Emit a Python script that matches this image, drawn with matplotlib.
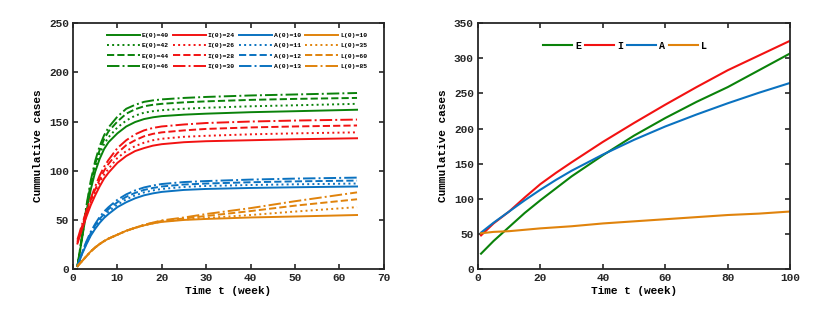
import matplotlib
matplotlib.use("Agg")
import matplotlib.pyplot as plt

plt.rcParams['font.family'] = ['Liberation Mono', 'DejaVu Sans Mono']
plt.rcParams['font.weight'] = 'bold'

# ---------- Left panel data ----------
t_left = [1, 2, 3, 4, 5, 6, 7, 8, 10, 12, 14, 16, 18, 20, 25, 30, 40, 50, 64]

E40 = [3, 30, 58, 81, 99, 112, 122, 129, 138, 145, 149.5, 152.5, 154.3, 155.5, 157, 158, 159.5, 160.5, 162]
E42 = [3, 31, 60, 84, 103, 117, 127, 134, 144, 151, 156, 159, 160.5, 161.5, 163, 164, 165.5, 166.5, 168]
E44 = [3, 32, 62, 87, 107, 121, 132, 140, 150, 158, 162.5, 165.5, 167, 168, 169.5, 170.5, 172, 173, 174]
E46 = [3, 33, 64, 90, 110, 125, 136, 144, 155, 163, 167, 170, 171.5, 172.5, 174, 175, 176.5, 177.5, 179]

I24 = [26, 40, 53, 65, 75, 84, 92, 98, 108, 115, 120, 123, 125.5, 127, 129, 130, 131, 132, 133]
I26 = [27, 41, 55, 67, 78, 88, 96, 102, 113, 120, 125, 128.5, 131, 132.5, 134.5, 135.5, 137, 138, 139]
I28 = [28, 43, 57, 70, 81, 91, 100, 107, 118, 126, 131, 135, 137.5, 139, 141, 142.5, 144, 145, 146]
I30 = [30, 45, 59, 72, 84, 95, 104, 111, 123, 131, 137, 141, 143.5, 145, 147, 148.5, 150, 151, 152]

A10 = [3, 15, 25, 34, 41, 47, 52, 56, 63, 68, 72, 75, 77, 78.5, 80.5, 81.5, 82.5, 83.2, 84]
A11 = [3, 15.5, 26, 35, 43, 49, 54, 58.5, 65.5, 71, 75, 78, 80, 81.5, 83.5, 84.5, 85.5, 86.2, 87]
A12 = [3, 16, 27, 36.5, 44.5, 51, 56, 61, 68, 73.5, 77.5, 80.5, 82.5, 84, 86, 87, 88.3, 89.2, 90]
A13 = [3, 16.5, 28, 38, 46, 53, 58.5, 63, 70.5, 76, 80, 83, 85, 86.5, 88.5, 89.5, 91, 92, 93]

L10 = [3, 8, 13, 18, 22, 25.5, 28.5, 31, 35, 39, 42, 44.5, 46.5, 48, 50, 51, 52.5, 53.5, 55]
L35 = [3, 8, 13, 18, 22, 25.5, 28.5, 31, 35, 39, 42, 44.5, 46.5, 48.5, 50.5, 52, 55, 58.5, 63]
L60 = [3, 8, 13, 18, 22, 25.5, 28.5, 31, 35, 39, 42, 45, 47, 49, 51.5, 54, 59, 64.5, 71]
L85 = [3, 8, 13, 18, 22, 25.5, 28.5, 31, 35, 39, 42, 45, 47.3, 49.5, 52.5, 56, 62, 69, 78]

E_labels = ['E(0)=40', 'E(0)=42', 'E(0)=44', 'E(0)=46']
I_labels = ['I(0)=24', 'I(0)=26', 'I(0)=28', 'I(0)=30']
A_labels = ['A(0)=10', 'A(0)=11', 'A(0)=12', 'A(0)=13']
L_labels = ['L(0)=10', 'L(0)=35', 'L(0)=60', 'L(0)=85']

# ---------- Right panel data ----------
t_right = [1, 5, 10, 15, 20, 25, 30, 40, 50, 60, 70, 80, 90, 100]
E_r = [22, 40, 60, 80, 98, 115, 132, 162, 190, 215, 238, 259, 283, 307]
I_r = [48, 65, 82, 102, 121, 137, 152, 181, 208, 234, 259, 283, 304, 325]
A_r = [52, 66, 82, 98, 113, 127, 140, 163, 184, 203, 220, 236, 251, 265]
L_r = [51, 53, 54, 56, 58, 59.5, 61, 65, 68, 71, 74, 77, 79, 82]
right_labels = ['E', 'I', 'A', 'L']

GREEN = '#0a820a'
RED = '#f21212'
BLUE = '#0a72c0'
ORANGE = '#e0830c'

styles = ['-', ':', '--', '-.']

fig = plt.figure(figsize=(8.24, 3.17), dpi=100)
ax1 = fig.add_axes([0.0886, 0.151, 0.377, 0.776])
ax2 = fig.add_axes([0.580, 0.151, 0.379, 0.776])

lw = 1.4
groups = [
    ([E40, E42, E44, E46], E_labels, GREEN),
    ([I24, I26, I28, I30], I_labels, RED),
    ([A10, A11, A12, A13], A_labels, BLUE),
    ([L10, L35, L60, L85], L_labels, ORANGE),
]
for series, labels, col in groups:
    for y, lab, ls in zip(series, labels, styles):
        ax1.plot(t_left, y, color=col, linestyle=ls, lw=lw, label=lab)

ax1.set_xlim(0, 70)
ax1.set_ylim(0, 250)
ax1.set_xticks(range(0, 71, 10))
ax1.set_yticks(range(0, 251, 50))
ax1.set_xlabel('Time t (week)', fontsize=8, fontweight='bold', labelpad=2)
ax1.set_ylabel('Cummulative cases', fontsize=8, fontweight='bold', labelpad=4)
ax1.legend(ncol=4, loc='upper left', bbox_to_anchor=(0.09, 0.985),
           frameon=False, handlelength=5.2,
           handletextpad=0.3, columnspacing=0.6, labelspacing=0.75,
           prop={'size': 4.6, 'weight': 'bold', 'family': 'Liberation Mono'})

for y, lab, col in zip([E_r, I_r, A_r, L_r], right_labels, [GREEN, RED, BLUE, ORANGE]):
    ax2.plot(t_right, y, color=col, lw=1.5, label=lab)
ax2.set_xlim(0, 100)
ax2.set_ylim(0, 350)
ax2.set_xticks(range(0, 101, 20))
ax2.set_yticks(range(0, 351, 50))
ax2.set_xlabel('Time t (week)', fontsize=8, fontweight='bold', labelpad=2)
ax2.set_ylabel('Cummulative cases', fontsize=8, fontweight='bold', labelpad=4)
ax2.legend(ncol=4, loc='upper left', bbox_to_anchor=(0.18, 0.965), frameon=False,
           handlelength=2.9, handletextpad=0.3, columnspacing=0.4,
           prop={'size': 7.2, 'weight': 'bold', 'family': 'Liberation Mono'})

for ax in (ax1, ax2):
    for s in ax.spines.values():
        s.set_linewidth(1.3)
        s.set_color('#262626')
    ax.tick_params(direction='in', top=True, right=True, length=3.5, width=1.2,
                   labelsize=8, colors='#262626', pad=3)
    for lbl in ax.get_xticklabels() + ax.get_yticklabels():
        lbl.set_fontweight('bold')

fig.savefig('out.png', dpi=100)
